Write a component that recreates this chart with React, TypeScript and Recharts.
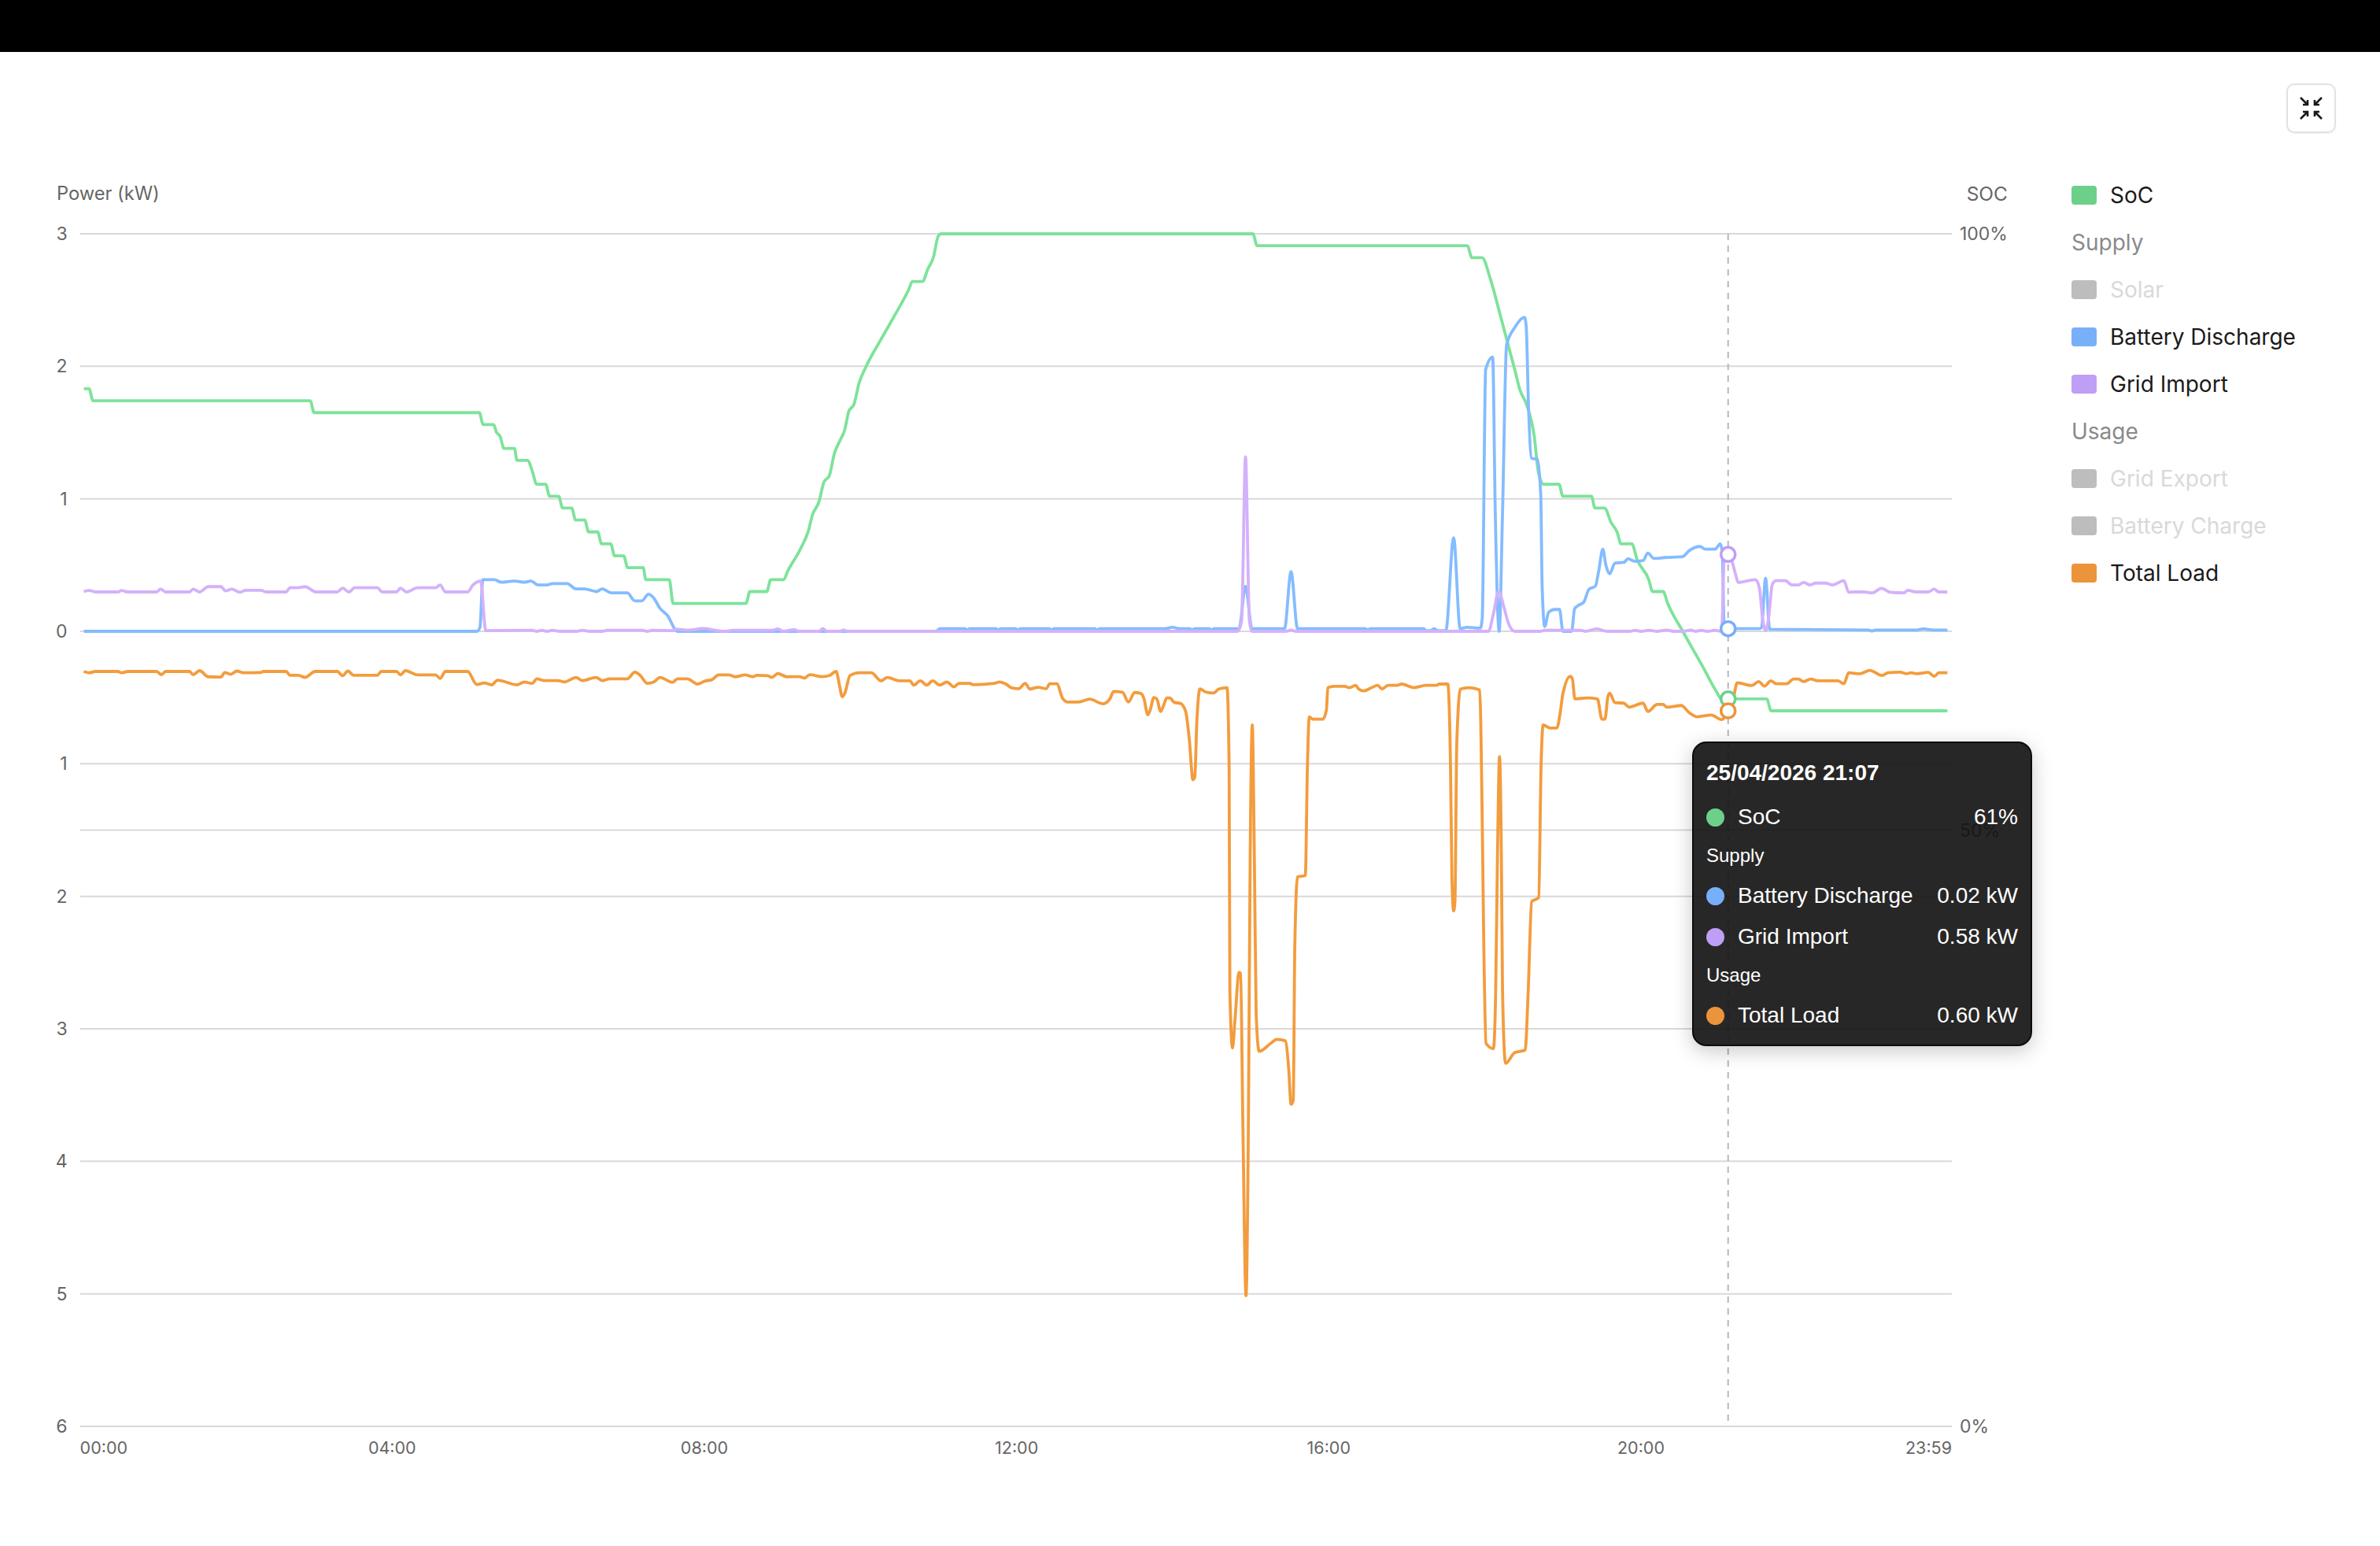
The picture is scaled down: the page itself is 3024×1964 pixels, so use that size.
import { LineChart, Line, XAxis, YAxis, CartesianGrid, Tooltip, Legend, ReferenceLine } from "recharts";

type Pt = [number, number];

// minute of day, SoC %
const socPoints: Pt[] = [
  [3, 87], [7, 87], [10, 86], [177, 86], [180, 85], [307, 85], [310, 84], [318, 84], [320, 83.4], [323, 83], [326, 82], [334, 82], [336, 81], [344, 81],
  [348, 80], [351, 79], [358, 79], [361, 78], [368, 78], [371, 77], [378, 77], [381, 76], [388, 76], [391, 75], [398, 75], [401, 74], [408, 74],
  [411, 73], [418, 73], [421, 72], [433, 72], [435, 71], [453, 71], [456, 69], [512, 69], [515, 70], [528, 70], [531, 71], [541, 71],
  [544, 71.7], [554, 73.6], [560, 75.1], [563, 76.4], [568, 77.5], [572, 79.2], [576, 79.7], [580, 81.6], [584, 82.6], [588, 83.6], [591, 85.1], [595, 85.7],
  [599, 87.5], [604, 88.8], [615, 91], [626, 93.1], [637, 95.3], [640, 96], [647.8, 96], [651.6, 97], [656, 98], [659.8, 99.8], [662, 100], [901.6, 100], [905, 99],
  [1066.6, 99], [1070, 98], [1078, 98], [1084, 96.3], [1093, 92.7], [1103, 88.6], [1107, 86.9], [1112, 85.7], [1118, 83], [1121, 80.1], [1125, 79], [1137, 79], [1140, 78],
  [1162, 78], [1164.6, 77], [1172, 77], [1177, 75.8], [1181.6, 75], [1184.7, 74], [1193, 74], [1197, 72.7], [1206, 71], [1209, 70], [1217, 70], [1220.6, 69],
  [1233, 66.5], [1246, 64], [1258.6, 61.5], [1261.6, 61], [1267, 61], [1296.7, 61], [1300, 60], [1435.6, 60],
];

// minute of day, kW
const batteryPoints: Pt[] = [
  [3, 0], [305, 0], [307.5, 0.03], [309.7, 0.39], [318.5, 0.39], [324, 0.37], [334, 0.38], [341.7, 0.37], [346.7, 0.38], [352, 0.35], [359, 0.35], [363, 0.36],
  [374.5, 0.36], [381.4, 0.32], [388, 0.32], [397, 0.3], [401.5, 0.32], [408.4, 0.29], [420.7, 0.29], [426.5, 0.23], [432, 0.23], [437, 0.28], [440.8, 0.255],
  [445.8, 0.175], [451.6, 0.12], [459.3, 0], [658, 0], [661, 0.02], [680, 0.02], [682, 0.012], [684, 0.02], [704, 0.02], [706, 0.012], [708, 0.02], [719, 0.02],
  [721, 0.012], [723, 0.02], [745, 0.02], [747, 0.012], [749, 0.02], [780, 0.02], [782, 0.012], [784, 0.02], [834, 0.02], [840, 0.03], [845, 0.02], [853, 0.02],
  [855, 0.012], [857, 0.02], [868, 0.02], [870, 0.012], [872, 0.02], [891, 0.02], [896, 0.34], [901, 0.02], [926, 0.02], [931, 0.45], [936, 0.02], [988, 0.02],
  [990, 0.01], [992, 0.02], [1033, 0.02], [1035, 0.005], [1038, 0.005], [1041, 0.02], [1044, 0.005], [1050, 0.005], [1056, 0.706], [1061, 0.02], [1066, 0.03],
  [1076.6, 0.024], [1078, 0.1], [1080.6, 1.975], [1086, 2.07], [1088, 0.9], [1091, 0], [1093.6, 0.9], [1096.7, 2.16], [1102.8, 2.29], [1110.5, 2.37], [1111.8, 2.3],
  [1113.6, 1.68], [1116, 1.306], [1120.4, 1.298], [1123, 1.02], [1124, 0.356], [1126, 0.037], [1129, 0.143], [1133.7, 0.165], [1137.4, 0.165], [1140, 0], [1146.7, 0],
  [1149, 0.17], [1152, 0.196], [1156, 0.22], [1160, 0.316], [1165, 0.342], [1167.6, 0.46], [1170.7, 0.62], [1173, 0.5], [1176, 0.435], [1180, 0.515], [1186.8, 0.52],
  [1190, 0.547], [1195.4, 0.528], [1201.6, 0.534], [1205.3, 0.59], [1210, 0.55], [1218.6, 0.557], [1232, 0.563], [1237, 0.608], [1245.4, 0.64], [1249.5, 0.62],
  [1257, 0.62], [1261, 0.66], [1262.5, 0.6], [1264, 0.03], [1267, 0.02], [1291, 0.02], [1292.7, 0.03], [1295.8, 0.4], [1299, 0.015], [1375, 0.01], [1377.6, 0.002],
  [1380, 0.01], [1412, 0.01], [1417, 0.018], [1425, 0.01], [1435.6, 0.01],
];

const gridPoints: Pt[] = [
  [2.9, 0.3], [7.2, 0.308], [11.8, 0.297], [29.2, 0.297], [31.9, 0.308], [36.9, 0.297], [58.9, 0.297], [62, 0.319], [65.8, 0.297], [84.3, 0.297], [87, 0.319], [92, 0.297],
  [98.6, 0.337], [108.3, 0.337], [112, 0.305], [116.7, 0.319], [122.9, 0.295], [127.5, 0.31], [139, 0.31], [143, 0.297], [158.4, 0.297], [161.5, 0.329], [168, 0.329],
  [173, 0.337], [181.5, 0.297], [197.8, 0.297], [202, 0.326], [206.6, 0.297], [211.3, 0.329], [228.6, 0.329], [232.5, 0.297], [243.3, 0.297], [246.4, 0.326], [251, 0.297],
  [259.5, 0.329], [273.4, 0.329], [276.8, 0.35], [281, 0.297], [298, 0.297], [302, 0.348], [308, 0.38], [312, 0.005], [347.5, 0.008], [351.3, 0], [355, 0.008], [359, 0],
  [363, 0.008], [369, 0], [382, 0], [386, 0.008], [392, 0], [401.5, 0], [405.3, 0.008], [432.3, 0.008], [436, 0], [440, 0.008], [455.5, 0.005], [459.3, 0.016], [467, 0.008],
  [478.6, 0.021], [490, 0.005], [496, 0], [501.8, 0.008], [532.6, 0.008], [536.5, 0.019], [540.5, 0], [549, 0.013], [553, 0], [568, 0], [571, 0.02], [574.5, 0], [584, 0],
  [587, 0.01], [590, 0], [890, 0], [893, 0.08], [896, 1.317], [899, 0.08], [901, 0], [927, 0], [931, 0.01], [935, 0], [1082.8, 0], [1086.8, 0.143], [1090.5, 0.3], [1095, 0.17],
  [1098, 0.064], [1103, 0], [1123, 0], [1126, 0.008], [1153.8, 0.008], [1157, 0], [1166, 0.018], [1174, 0], [1192, 0], [1195.4, 0.008], [1200, 0], [1206.3, 0.008],
  [1212.4, 0], [1220, 0.01], [1224.8, 0], [1232.5, 0], [1238.6, 0.01], [1241.7, 0], [1246.4, 0.008], [1251, 0], [1257, 0.008], [1262, 0], [1264, 0.54], [1267, 0.58],
  [1270, 0.528], [1272.6, 0.435], [1274.8, 0.369], [1288, 0.39], [1291, 0.33], [1293.6, 0.09], [1295.8, 0.005], [1298, 0.09], [1301, 0.355], [1304, 0.382], [1311, 0.382],
  [1316, 0.35], [1321, 0.35], [1325, 0.369], [1330, 0.35], [1334.4, 0.364], [1342, 0.364], [1347.3, 0.35], [1356, 0.382], [1359.7, 0.295], [1363.7, 0.297], [1371.4, 0.297],
  [1377.6, 0.29], [1385, 0.324], [1391.5, 0.295], [1402.3, 0.29], [1405, 0.31], [1411.5, 0.297], [1420.8, 0.297], [1425.4, 0.318], [1429, 0.297], [1435.6, 0.297],
];

const loadPoints: Pt[] = [
  [2.9, -0.303], [7.2, -0.313], [11.8, -0.303], [29.2, -0.303], [31.9, -0.313], [36.9, -0.303], [58.9, -0.303], [62.7, -0.327], [65.8, -0.303], [84.3, -0.303], [87, -0.327],
  [92, -0.297], [98.6, -0.343], [108.3, -0.345], [111.3, -0.311], [116, -0.324], [120.6, -0.3], [125.6, -0.313], [139, -0.311], [141, -0.303], [158.4, -0.303], [161.5, -0.332],
  [168, -0.332], [173, -0.348], [180.8, -0.303], [197.8, -0.303], [202, -0.335], [205.9, -0.3], [210.5, -0.332], [228.6, -0.332], [231.7, -0.303], [243.3, -0.303], [246.4, -0.329],
  [250.2, -0.297], [259.5, -0.329], [273.4, -0.329], [276.8, -0.356], [281, -0.303], [298, -0.303], [305, -0.401], [310.8, -0.39], [316.6, -0.404], [321, -0.369], [335.9, -0.404],
  [341.7, -0.382], [347.5, -0.393], [351.3, -0.359], [357, -0.372], [367.5, -0.372], [372.5, -0.382], [381.4, -0.348], [386, -0.372], [396.8, -0.348], [401.5, -0.372], [407.2, -0.359],
  [420.8, -0.359], [426.5, -0.308], [430.4, -0.329], [436.2, -0.393], [441.2, -0.382], [445.8, -0.348], [455.5, -0.385], [459.3, -0.359], [467, -0.359], [474.8, -0.398], [480.6, -0.375],
  [485.6, -0.366], [491, -0.329], [498.7, -0.329], [503.7, -0.343], [511.4, -0.329], [517.2, -0.343], [520.3, -0.332], [528.8, -0.335], [531.8, -0.348], [536.5, -0.319], [543.4, -0.343],
  [553, -0.342], [557, -0.353], [561, -0.327], [570.5, -0.342], [576, -0.334], [581.3, -0.303], [584, -0.414], [586, -0.494], [588, -0.467], [592, -0.334], [599, -0.313], [608.3, -0.313],
  [615.9, -0.374], [620.5, -0.348], [630, -0.374], [638, -0.374], [641, -0.406], [646, -0.374], [651, -0.406], [655.5, -0.374], [661, -0.406], [666.4, -0.382], [671.8, -0.419], [675.8, -0.393],
  [684, -0.393], [686.6, -0.403], [702.8, -0.393], [707, -0.382], [712.3, -0.401], [716.3, -0.427], [721.7, -0.433], [726.6, -0.393], [730.3, -0.435], [736.6, -0.422], [742.8, -0.433],
  [745.5, -0.396], [750.9, -0.396], [755.5, -0.507], [759.5, -0.534], [767.6, -0.534], [776.2, -0.512], [786.5, -0.547], [791.9, -0.507], [794.6, -0.454], [801.4, -0.459], [806, -0.534],
  [810.8, -0.462], [815.8, -0.47], [818, -0.51], [820.9, -0.63], [822.7, -0.595], [825.5, -0.5], [827.8, -0.51], [830.8, -0.605], [833, -0.56], [835.5, -0.503], [837.8, -0.503], [841.3, -0.537],
  [846, -0.544], [850, -0.605], [852.8, -0.816], [855.6, -1.12], [857, -1.1], [858.6, -0.68], [861, -0.435], [865.6, -0.459], [871.4, -0.466], [875.5, -0.435], [881.8, -0.425], [883.4, -1.02],
  [884, -2.72], [886, -3.145], [888, -2.92], [891, -2.574], [892.2, -2.58], [894, -3.74], [896.4, -5.015], [898.2, -3.74], [899.6, -1.7], [901.2, -0.707], [902.8, -1.7], [904.2, -2.89],
  [906.5, -3.17], [915.3, -3.11], [920, -3.08], [926.5, -3.09], [929.2, -3.3], [931, -3.57], [932.7, -3.54], [933.9, -2.38], [936, -1.853], [942, -1.843], [943.6, -1.02], [945, -0.646],
  [947.8, -0.663], [955.4, -0.663], [958.2, -0.595], [959.3, -0.425], [964, -0.415], [972, -0.415], [976, -0.425], [980.6, -0.408], [983, -0.435], [986.6, -0.449], [993, -0.425], [997.5, -0.408],
  [1001, -0.435], [1005.6, -0.408], [1012.6, -0.408], [1016, -0.398], [1025.3, -0.425], [1034.6, -0.408], [1042.7, -0.408], [1045, -0.398], [1051.5, -0.398], [1053.6, -1.02], [1054.7, -1.87],
  [1056, -2.11], [1057, -2.04], [1058.4, -0.85], [1061.2, -0.435], [1068, -0.425], [1076, -0.442], [1077.9, -1.36], [1079.2, -2.38], [1080.9, -3.11], [1086.6, -3.15], [1088.3, -2.72],
  [1089.7, -1.7], [1091.3, -0.945], [1092.7, -1.7], [1093.6, -2.72], [1095.9, -3.26], [1102.9, -3.18], [1111, -3.16], [1113.3, -2.72], [1116, -2.04], [1121.4, -2.01], [1123.2, -1.02],
  [1124.8, -0.707], [1130.2, -0.73], [1135.3, -0.73], [1138, -0.61], [1139.9, -0.476], [1145.7, -0.34], [1147.3, -0.36], [1149.2, -0.51], [1158.4, -0.503], [1166.5, -0.51], [1170, -0.663],
  [1172.3, -0.663], [1174.6, -0.493], [1176, -0.467], [1180, -0.539], [1186.8, -0.542], [1190.8, -0.573], [1201.6, -0.542], [1205.3, -0.605], [1212.4, -0.552], [1217, -0.552], [1220, -0.573],
  [1231, -0.56], [1237, -0.613], [1243.3, -0.645], [1254, -0.632], [1262, -0.666], [1267, -0.6], [1271, -0.507], [1274, -0.388], [1285, -0.409], [1290.5, -0.38], [1295, -0.414], [1299.8, -0.374],
  [1304, -0.396], [1312, -0.396], [1317.4, -0.36], [1321, -0.36], [1325, -0.38], [1330.6, -0.36], [1336, -0.374], [1351.3, -0.374], [1356, -0.396], [1359.7, -0.313], [1368.3, -0.32], [1376, -0.295],
  [1385.3, -0.334], [1390, -0.313], [1399.2, -0.308], [1403.8, -0.32], [1408, -0.313], [1411.5, -0.32], [1420.8, -0.31], [1425.4, -0.34], [1429, -0.313], [1435.6, -0.313],
];

const xTicks = [0, 240, 480, 720, 960, 1200, 1439];
const powerTicks = [3, 2, 1, 0, -1, -2, -3, -4, -5, -6];
const socTicks = [100, 50, 0];
const legendItems = ["SoC", "#Supply", "-Solar", "Battery Discharge", "Grid Import", "#Usage", "-Grid Export", "-Battery Charge", "Total Load"];
const hoverMinute = 1267;

const swatch: Record<string, string> = {
  SoC: "#6dd08a",
  "Battery Discharge": "#78aff9",
  "Grid Import": "#bf9ff5",
  "Total Load": "#eb943b",
};
const FONT = "Inter, sans-serif";
const TIP_FONT = "'Liberation Sans', Arial, sans-serif";

// merge the series into one table, a series is blank where it has no reading
function buildRows() {
  const rows = new Map<number, any>();
  const add = (key: string, pts: Pt[]) => {
    pts.forEach(([t, v]) => {
      if (!rows.has(t)) rows.set(t, { t });
      rows.get(t)[key] = v;
    });
  };
  add("soc", socPoints);
  add("battery", batteryPoints);
  add("grid", gridPoints);
  add("load", loadPoints);
  return [...rows.values()].sort((a, b) => a.t - b.t);
}

const rows = buildRows();
const hoverIndex = rows.findIndex((r) => r.t === hoverMinute);

function clock(t: number) {
  const m = Math.round(t);
  return String(Math.floor(m / 60)).padStart(2, "0") + ":" + String(m % 60).padStart(2, "0");
}

function XTick({ x, y, payload }: any) {
  const anchor = payload.value === 0 ? "start" : payload.value === 1439 ? "end" : "middle";
  return (
    <text x={x} y={y} dy={27} textAnchor={anchor} fontFamily={FONT} fontSize={21.5} fill="#666">
      {clock(payload.value)}
    </text>
  );
}

function TipRow({ top, name, value }: { top: number; name: string; value: string }) {
  return (
    <div style={{ position: "absolute", left: 16, right: 16, top: top - 16, height: 32, display: "flex", alignItems: "center", fontSize: 28 }}>
      <span style={{ width: 23, height: 23, borderRadius: "50%", background: swatch[name], marginRight: 17 }} />
      <span style={{ flex: 1 }}>{name}</span>
      <span>{value}</span>
    </div>
  );
}

function TipHead({ top, text }: { top: number; text: string }) {
  return <div style={{ position: "absolute", left: 16, top: top - 15, lineHeight: "30px", fontSize: 24 }}>{text}</div>;
}

function HoverCard({ payload, label }: any) {
  const val = (k: string) => payload?.find((p: any) => p.dataKey === k)?.value ?? 0;
  const kw = (k: string) => Math.abs(val(k)).toFixed(2) + " kW";
  return (
    <div
      style={{
        position: "relative",
        width: 432,
        height: 387,
        boxSizing: "border-box",
        background: "rgba(16,16,16,0.9)",
        border: "2px solid #0c0c0c",
        borderRadius: 18,
        boxShadow: "0 6px 26px rgba(0,0,0,0.22)",
        color: "#fff",
        fontFamily: TIP_FONT,
      }}
    >
      <div style={{ position: "absolute", left: 16, top: 22, lineHeight: "32px", fontSize: 28, fontWeight: 700 }}>25/04/2026 {clock(label)}</div>
      <TipRow top={94} name="SoC" value={val("soc") + "%"} />
      <TipHead top={143} text="Supply" />
      <TipRow top={194} name="Battery Discharge" value={kw("battery")} />
      <TipRow top={246} name="Grid Import" value={kw("grid")} />
      <TipHead top={295} text="Usage" />
      <TipRow top={346} name="Total Load" value={kw("load")} />
    </div>
  );
}

function SeriesLegend() {
  return (
    <div style={{ fontFamily: FONT, fontSize: 28 }}>
      {legendItems.map((item) => {
        if (item[0] === "#") {
          return <div key={item} style={{ height: 60, lineHeight: "60px", color: "#8a8a8a" }}>{item.slice(1)}</div>;
        }
        const off = item[0] === "-";
        const name = off ? item.slice(1) : item;
        return (
          <div key={item} style={{ height: 60, display: "flex", alignItems: "center", color: off ? "#d9d9d9" : "#1a1a1a" }}>
            <span style={{ width: 32, height: 24, borderRadius: 4, marginRight: 17, background: off ? "#bdbdbd" : swatch[name] }} />
            {name}
          </div>
        );
      })}
    </div>
  );
}

function line(key: string, name: string, color: string, axis: string, ring: string) {
  return (
    <Line
      key={key}
      yAxisId={axis}
      dataKey={key}
      name={name}
      type="monotone"
      connectNulls
      stroke={color}
      strokeWidth={3.8}
      dot={false}
      activeDot={{ r: 9, fill: "#fff", stroke: ring, strokeWidth: 3.5 }}
      isAnimationActive={false}
    />
  );
}

export default function App() {
  return (
    <div style={{ position: "fixed", left: 0, top: 0, width: 3024, height: 1964, background: "#fff", overflow: "hidden" }}>
      <div style={{ height: 66, background: "#000" }} />
      <div
        style={{
          position: "absolute",
          left: 2905,
          top: 106,
          width: 63,
          height: 63,
          boxSizing: "border-box",
          border: "2px solid #e2e2e2",
          borderRadius: 10,
          boxShadow: "0 1px 2px rgba(0,0,0,0.06)",
        }}
      >
        <svg width={59} height={59} viewBox="0 0 59 59" fill="none" stroke="#1a1a1a" strokeWidth={2.6}>
          <path d="M16 16l9 9M19 25h6v-6M43 16l-9 9M40 25h-6v-6M16 43l9-9M19 34h6v6M43 43l-9-9M40 34h-6v6" />
        </svg>
      </div>
      <div style={{ position: "absolute", left: 72, top: 232, fontFamily: FONT, fontSize: 23.7, lineHeight: "28px", color: "#666" }}>Power (kW)</div>
      <div style={{ position: "absolute", right: 3024 - 2551, top: 232, fontFamily: FONT, fontSize: 24.5, lineHeight: "28px", color: "#666" }}>SOC</div>
      <div style={{ position: "absolute", left: 0, top: 0 }}>
        <LineChart width={3024} height={1964} data={rows} margin={{ top: 297, right: 464, bottom: 92, left: 61.6 }}>
          <CartesianGrid yAxisId="power" vertical={false} stroke="#d9d9d9" strokeWidth={2} />
          <XAxis dataKey="t" type="number" domain={[0, 1439]} ticks={xTicks} interval={0} axisLine={false} tickLine={false} height={60} tick={<XTick />} />
          <YAxis
            yAxisId="power"
            domain={[-6, 3]}
            ticks={powerTicks}
            interval={0}
            width={40}
            axisLine={false}
            tickLine={false}
            tickMargin={10}
            tickFormatter={(v: number) => String(Math.abs(v))}
            tick={{ fontFamily: FONT, fontSize: 23, fill: "#666" }}
          />
          <YAxis
            yAxisId="soc"
            orientation="right"
            domain={[0, 100]}
            ticks={socTicks}
            interval={0}
            width={80}
            axisLine={false}
            tickLine={false}
            tickMargin={4}
            tickFormatter={(v: number) => v + "%"}
            tick={{ fontFamily: FONT, fontSize: 23, fill: "#666" }}
          />
          <ReferenceLine yAxisId="soc" y={50} stroke="#d9d9d9" strokeWidth={2} />
          <Legend
            layout="vertical"
            align="center"
            verticalAlign="middle"
            content={<SeriesLegend />}
            wrapperStyle={{ position: "absolute", left: 2632, top: 218, width: 360, bottom: "auto", right: "auto" }}
          />
          <Tooltip
            active
            defaultIndex={hoverIndex}
            position={{ x: 2150, y: 942 }}
            content={<HoverCard />}
            cursor={{ stroke: "#b6b6c0", strokeWidth: 2, strokeDasharray: "8 7" }}
            isAnimationActive={false}
          />
          {line("soc", "SoC", "#7de39a", "soc", swatch.SoC)}
          {line("battery", "Battery Discharge", "#84bcff", "power", swatch["Battery Discharge"])}
          {line("grid", "Grid Import", "#d4b1fb", "power", swatch["Grid Import"])}
          {line("load", "Total Load", "#f39c3d", "power", swatch["Total Load"])}
        </LineChart>
      </div>
    </div>
  );
}
